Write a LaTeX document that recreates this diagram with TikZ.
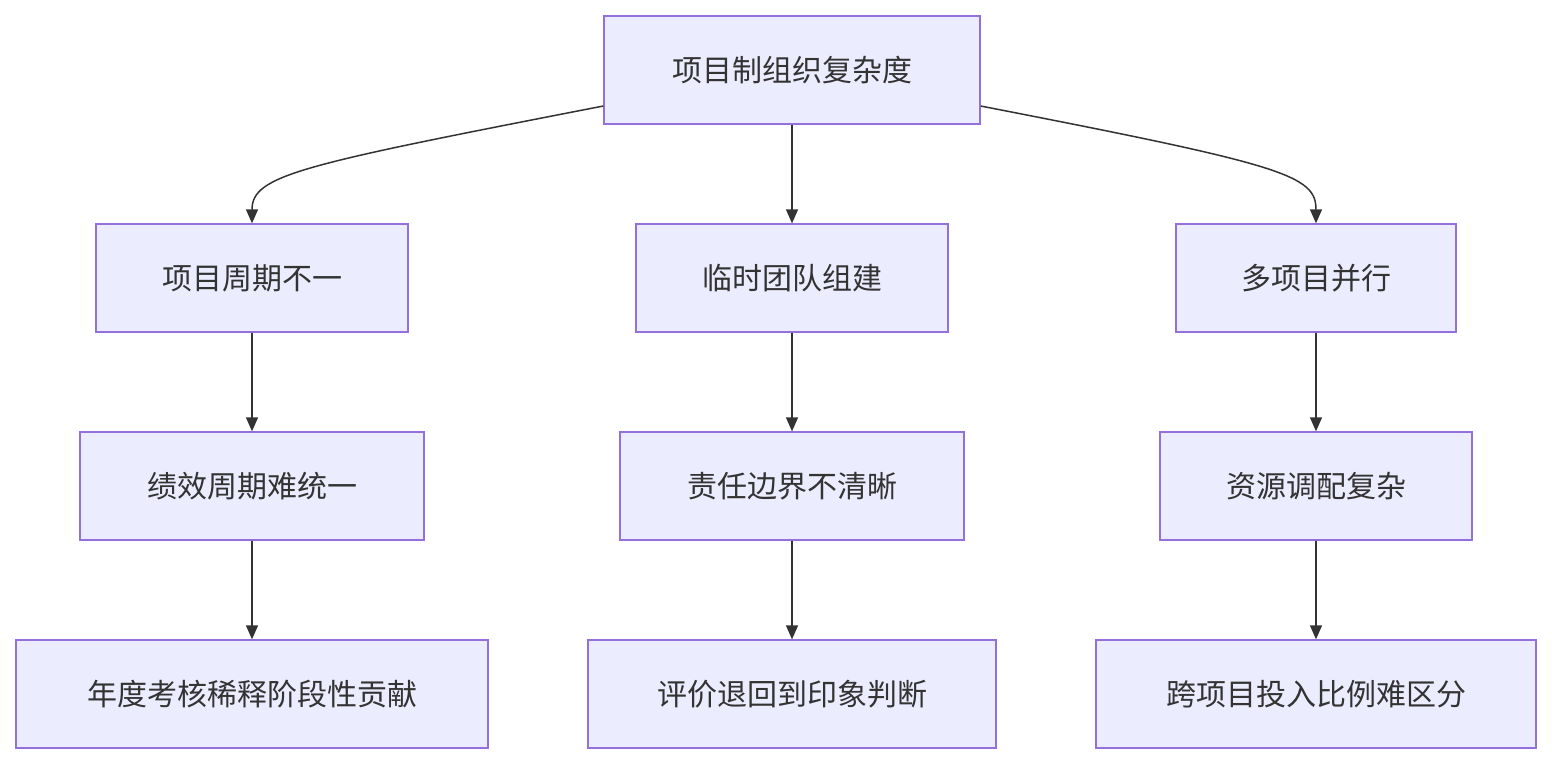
\documentclass[tikz,border=0pt]{standalone}
\usepackage{fontspec}
\setmainfont{Noto Sans CJK SC}
\usetikzlibrary{arrows.meta}
\definecolor{bfill}{HTML}{ECECFF}
\definecolor{bdraw}{HTML}{9370DB}
\definecolor{ink}{HTML}{333333}
\begin{document}
\begin{tikzpicture}[x=1pt,y=-1pt,
  box/.style={draw=bdraw,fill=bfill,line width=1.3pt,minimum height=108pt,inner sep=0pt,text=ink,font=\fontsize{30}{36}\selectfont},
  arr/.style={draw=ink,line width=1.5pt,-{Triangle[length=14pt,width=12pt]}}]
\useasboundingbox (0,0) rectangle (1552,764);
\node[box,minimum width=376pt] (t) at (792,70) {项目制组织复杂度};
\node[box,minimum width=312pt] (a1) at (252,278) {项目周期不一};
\node[box,minimum width=312pt] (b1) at (792,278) {临时团队组建};
\node[box,minimum width=280pt] (c1) at (1316,278) {多项目并行};
\node[box,minimum width=344pt] (a2) at (252,486) {绩效周期难统一};
\node[box,minimum width=344pt] (b2) at (792,486) {责任边界不清晰};
\node[box,minimum width=312pt] (c2) at (1316,486) {资源调配复杂};
\node[box,minimum width=472pt] (a3) at (252,694) {年度考核稀释阶段性贡献};
\node[box,minimum width=408pt] (b3) at (792,694) {评价退回到印象判断};
\node[box,minimum width=440pt] (c3) at (1316,694) {跨项目投入比例难区分};
\draw[arr] (t.west |- 0,106) .. controls (300,165) and (252,175) .. (a1.north);
\draw[arr] (t.east |- 0,106) .. controls (1284,165) and (1316,175) .. (c1.north);
\draw[arr] (t) -- (b1);
\draw[arr] (a1) -- (a2); \draw[arr] (a2) -- (a3);
\draw[arr] (b1) -- (b2); \draw[arr] (b2) -- (b3);
\draw[arr] (c1) -- (c2); \draw[arr] (c2) -- (c3);
\end{tikzpicture}
\end{document}
